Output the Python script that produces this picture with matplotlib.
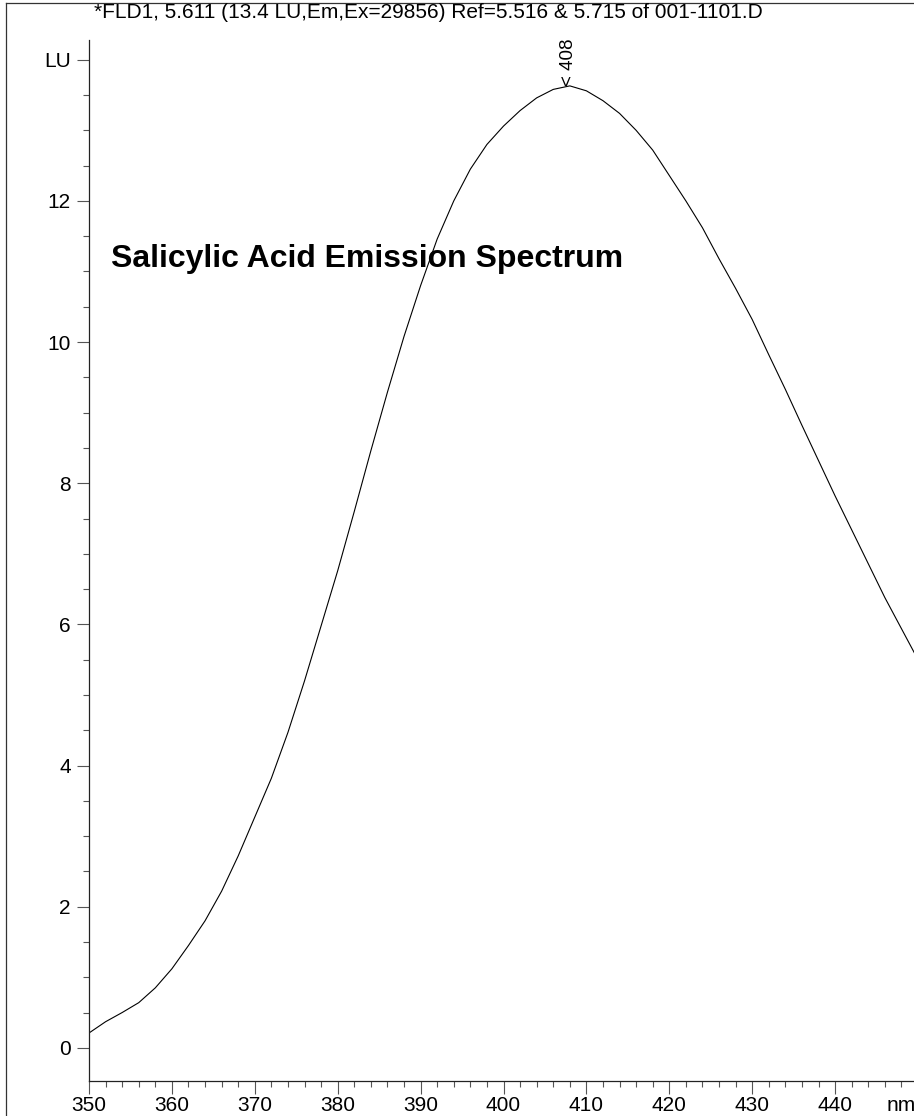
import numpy as np
import matplotlib.pyplot as plt
from matplotlib.lines import Line2D
from matplotlib.ticker import MultipleLocator, FixedLocator

plt.rcParams['font.family'] = ['Liberation Sans', 'DejaVu Sans']

# emission spectrum (nm, LU)
wavelength = [350, 352, 354, 356, 358, 360, 362, 364, 366, 368, 370, 372, 374,
              376, 378, 380, 382, 384, 386, 388, 390, 392, 394, 396, 398, 400,
              402, 404, 406, 408, 410, 412, 414, 416, 418, 420, 422, 424, 426,
              428, 430, 432, 434, 436, 438, 440, 442, 444, 446, 448, 450]
intensity = [0.21, 0.37, 0.50, 0.64, 0.85, 1.12, 1.45, 1.80, 2.22, 2.72, 3.27,
             3.82, 4.47, 5.20, 5.98, 6.76, 7.60, 8.46, 9.29, 10.08, 10.80,
             11.46, 12.00, 12.45, 12.80, 13.06, 13.28, 13.46, 13.58, 13.63,
             13.56, 13.42, 13.24, 13.00, 12.72, 12.36, 12.00, 11.62, 11.18,
             10.76, 10.32, 9.82, 9.33, 8.82, 8.32, 7.82, 7.34, 6.86, 6.38,
             5.94, 5.50]

peak_nm = 407.8
peak_lu = 13.63
peak_label = "< 408"

x_ticks = [350, 360, 370, 380, 390, 400, 410, 420, 430, 440]
y_ticks = [0, 2, 4, 6, 8, 10, 12, 14]
y_tick_labels = ["0", "2", "4", "6", "8", "10", "12", "LU"]

header = "*FLD1, 5.611 (13.4 LU,Em,Ex=29856) Ref=5.516 & 5.715 of 001-1101.D"
chart_title = "Salicylic Acid Emission Spectrum"

W, H = 914, 1116
fig = plt.figure(figsize=(W / 100, H / 100), dpi=100)

# axes placed in pixel terms of the original screen grab
left, right, top, bottom = 89, 918, 40, 1081
ax = fig.add_axes([left / W, (H - bottom) / H, (right - left) / W, (bottom - top) / H])

ax.plot(wavelength, intensity, color='black', lw=0.8)

ax.set_xlim(350, 450)
ax.set_ylim(-0.47, 14.28)

ax.spines['top'].set_visible(False)
ax.spines['right'].set_visible(False)
for s in ('left', 'bottom'):
    ax.spines[s].set_linewidth(0.9)
    ax.spines[s].set_color('#222222')

ax.xaxis.set_major_locator(FixedLocator(x_ticks))
ax.xaxis.set_minor_locator(MultipleLocator(2))
ax.yaxis.set_major_locator(FixedLocator(y_ticks))
ax.yaxis.set_minor_locator(MultipleLocator(0.5))
ax.set_yticklabels(y_tick_labels)

fs = 15
ax.tick_params(which='major', length=9, width=0.8, color='#555555',
               labelsize=fs, direction='out')
ax.tick_params(which='minor', length=4.5, width=0.8, color='#555555', direction='out')
ax.tick_params(axis='y', pad=4)
ax.tick_params(axis='x', pad=2)

# unit label at the end of the x axis, in line with the tick labels
ax.annotate("nm", xy=(448.0, 0), xycoords=('data', 'axes fraction'),
            xytext=(0, -11), textcoords='offset points',
            ha='center', va='top', fontsize=fs, annotation_clip=False)

ax.text(peak_nm, peak_lu, peak_label, rotation=90, ha='center', va='bottom',
        fontsize=13.5)

ax.text(0.026, 0.79, chart_title, transform=ax.transAxes, fontsize=23,
        fontweight='bold', ha='left', va='center')

fig.text(428.5 / W, 1 - 13 / H, header, ha='center', va='center', fontsize=fs)

# outer frame of the report page
fig.add_artist(Line2D([6 / W, 6 / W], [0, 1 - 3 / H], color='#333333', lw=0.9,
                      transform=fig.transFigure))
fig.add_artist(Line2D([6 / W, 1], [1 - 3 / H, 1 - 3 / H], color='#333333', lw=0.9,
                      transform=fig.transFigure))

fig.savefig('out.png', dpi=100)
